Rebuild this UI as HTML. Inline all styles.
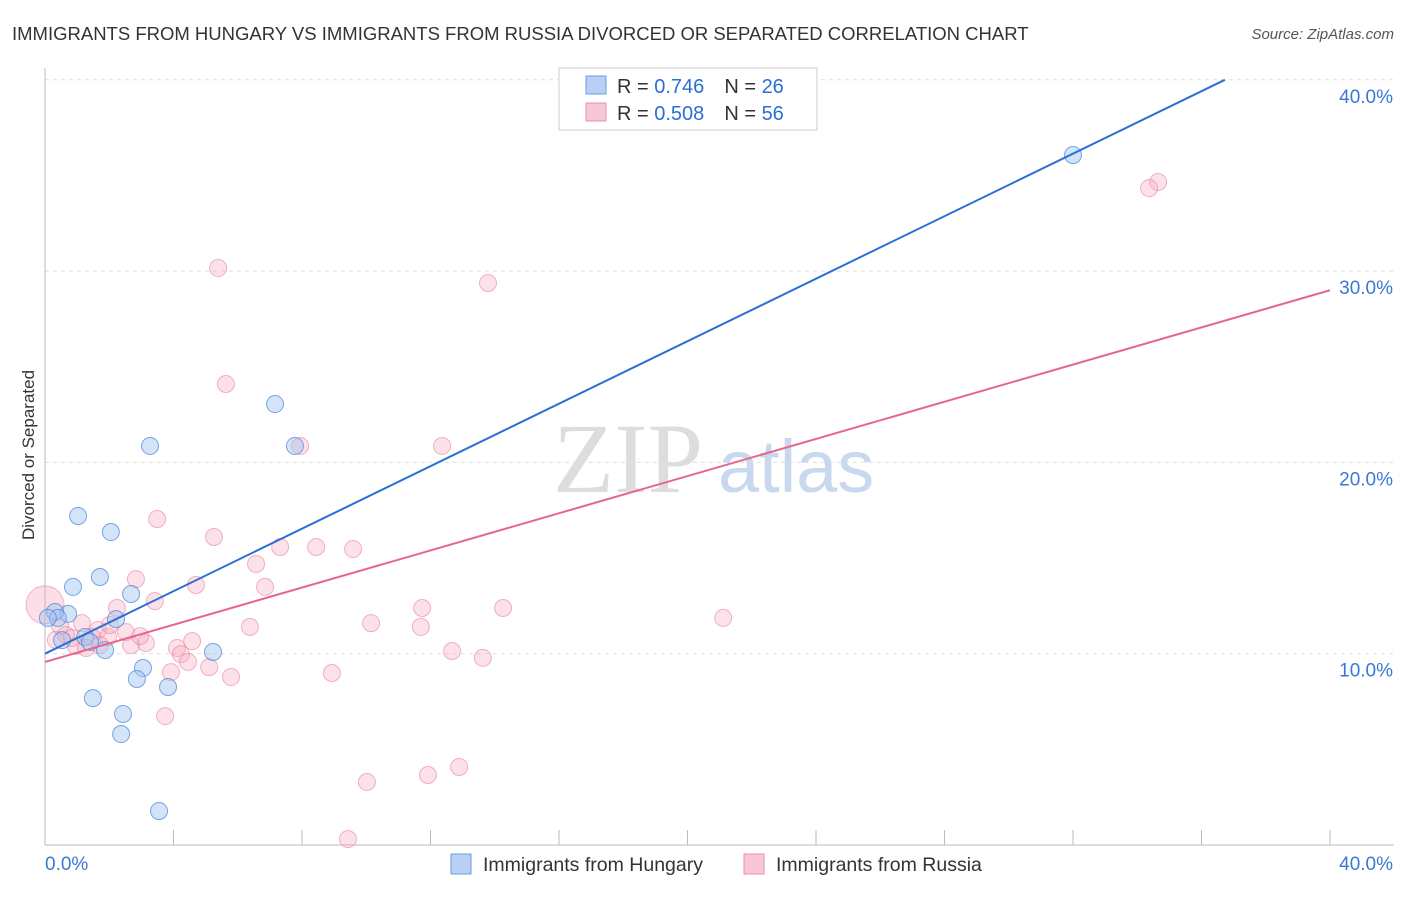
<!DOCTYPE html>
<html><head><meta charset="utf-8"><style>
body{margin:0;background:#fff;font-family:"Liberation Sans",sans-serif}
</style></head><body>
<svg width="1406" height="892" xmlns="http://www.w3.org/2000/svg">
<text x="12" y="40" font-size="18.5" fill="#333">IMMIGRANTS FROM HUNGARY VS IMMIGRANTS FROM RUSSIA DIVORCED OR SEPARATED CORRELATION CHART</text>
<text x="1394" y="39" font-size="15" fill="#555" font-style="italic" text-anchor="end">Source: ZipAtlas.com</text>
<text x="34" y="455" font-size="17" fill="#333" text-anchor="middle" transform="rotate(-90 34 455)">Divorced or Separated</text>
<text x="553" y="492" font-size="100" fill="#ddd" font-family="Liberation Serif,serif">ZIP</text>
<text x="718" y="492" font-size="74" fill="#c8d8ef">atlas</text>
<g id="grid"></g><g id="pts"></g><g id="lines"></g>
<g>
<rect x="559" y="68" width="258" height="62" fill="#fff" stroke="#ccc"/>
<rect x="586" y="76" width="20" height="18" fill="#b8d0f5" stroke="#6a9de0"/>
<rect x="586" y="103" width="20" height="18" fill="#f9c6d4" stroke="#ea92ac"/>
<text x="617" y="93" font-size="20" fill="#333">R = <tspan fill="#2a6fd6">0.746</tspan><tspan dx="20">N = </tspan><tspan fill="#2a6fd6">26</tspan></text>
<text x="617" y="120" font-size="20" fill="#333">R = <tspan fill="#2a6fd6">0.508</tspan><tspan dx="20">N = </tspan><tspan fill="#2a6fd6">56</tspan></text>
</g>
<g>
<rect x="451" y="854" width="20" height="20" fill="#b8d0f5" stroke="#6a9de0"/>
<text x="483" y="871" font-size="19.5" fill="#333">Immigrants from Hungary</text>
<rect x="744" y="854" width="20" height="20" fill="#f9c6d4" stroke="#ea92ac"/>
<text x="776" y="871" font-size="19.5" fill="#333">Immigrants from Russia</text>
</g>
</svg>
<script>
const yTicks=[10,20,30,40];
const yTickLabels=["10.0%","20.0%","30.0%","40.0%"];
const hungaryX=[32.0,7.16,3.27,7.78,1.03,2.05,1.71,0.87,2.68,0.72,0.31,0.40,2.21,1.25,1.40,1.87,5.23,3.05,2.86,3.83,1.49,2.43,2.37,3.55,0.09,0.53];
const hungaryY=[36.07,23.05,20.86,20.86,17.2,16.36,14.01,13.49,13.12,12.08,12.18,11.87,11.81,10.87,10.61,10.19,10.09,9.25,8.68,8.26,7.68,6.85,5.80,1.78,11.87,10.71];
const russiaX=[34.65,34.37,5.39,13.79,5.63,7.94,12.36,3.49,5.26,7.32,8.44,9.59,6.57,2.83,6.85,4.70,3.42,2.24,14.26,11.74,21.11,10.15,11.70,6.38,1.15,1.65,2.52,1.96,0.65,1.46,0.96,2.68,3.14,4.58,4.11,4.23,4.45,5.11,3.92,5.79,8.93,12.67,13.63,3.74,12.89,11.92,10.02,9.43,0,0.47,0.84,2.96,1.71,1.28,2.02,0.34];
const russiaY=[34.66,34.34,30.16,29.38,24.10,20.86,20.86,17.04,16.10,15.58,15.58,15.47,14.69,13.90,13.49,13.59,12.75,12.39,12.39,12.39,11.87,11.60,11.40,11.40,11.60,11.24,11.13,10.87,10.98,10.87,10.40,10.45,10.56,10.66,10.30,9.98,9.57,9.30,9.04,8.78,8.99,10.14,9.78,6.74,4.08,3.66,3.29,0.31,12.55,11.45,10.82,10.92,10.45,10.30,11.50,10.72];
const hungaryFit=[10,0.8168];
const russiaFit=[9.57,29.0];
const X=v=>45+v*32.125, Y=v=>845-v*19.13;
const NS="http://www.w3.org/2000/svg";
function mk(t,a,p){const e=document.createElementNS(NS,t);for(const k in a)e.setAttribute(k,a[k]);p.appendChild(e);return e;}
const grid=document.getElementById('grid');
yTicks.forEach((t,i)=>{
 const l=mk('line',{x1:45,x2:1394,y1:Y(t),y2:Y(t),stroke:'#ddd','stroke-dasharray':'4 4'},grid);
 
 
 const tx=mk('text',{x:1393,y:Y(t)+23,'font-size':19,fill:'#3a78d6','text-anchor':'end'},grid);
 tx.textContent=yTickLabels[i];
 
 
});
mk('line',{x1:45,x2:45,y1:68,y2:845,stroke:'#bbb'},grid);
mk('line',{x1:45,x2:1394,y1:845,y2:845,stroke:'#bbb'},grid);
for(let i=0;i<=10;i++){const t=mk('line',{x1:X(i*4),x2:X(i*4),y1:830,y2:845,stroke:'#bbb'},grid);
 
 }
const x0=mk('text',{x:45,y:870,'font-size':19,fill:'#3a78d6'},grid);x0.textContent='0.0%';


const x1=mk('text',{x:1393,y:870,'font-size':19,fill:'#3a78d6','text-anchor':'end'},grid);x1.textContent='40.0%';


const pts=document.getElementById('pts');
const big=mk('circle',{cx:X(0),cy:Y(12.55),r:19,fill:'rgba(244,160,185,0.35)',stroke:'rgba(230,120,150,0.5)'},pts);


russiaX.forEach((v,i)=>{if(i===48)return;const c=mk('circle',{cx:X(v),cy:Y(russiaY[i]),r:8.5,fill:'rgba(246,170,192,0.35)',stroke:'rgba(232,130,160,0.6)'},pts);
 
 });
hungaryX.forEach((v,i)=>{const c=mk('circle',{cx:X(v),cy:Y(hungaryY[i]),r:8.5,fill:'rgba(160,195,240,0.45)',stroke:'rgba(70,130,220,0.7)'},pts);
 
 });
const lines=document.getElementById('lines');
const hx2=(40-hungaryFit[0])/hungaryFit[1];
const bl=mk('line',{x1:X(0),y1:Y(hungaryFit[0]),x2:X(hx2),y2:Y(40),stroke:'#2a6fd6','stroke-width':2},lines);


const pl=mk('line',{x1:X(0),y1:Y(russiaFit[0]),x2:X(40),y2:Y(russiaFit[1]),stroke:'#e5668f','stroke-width':2},lines);


</script>
</body></html>
